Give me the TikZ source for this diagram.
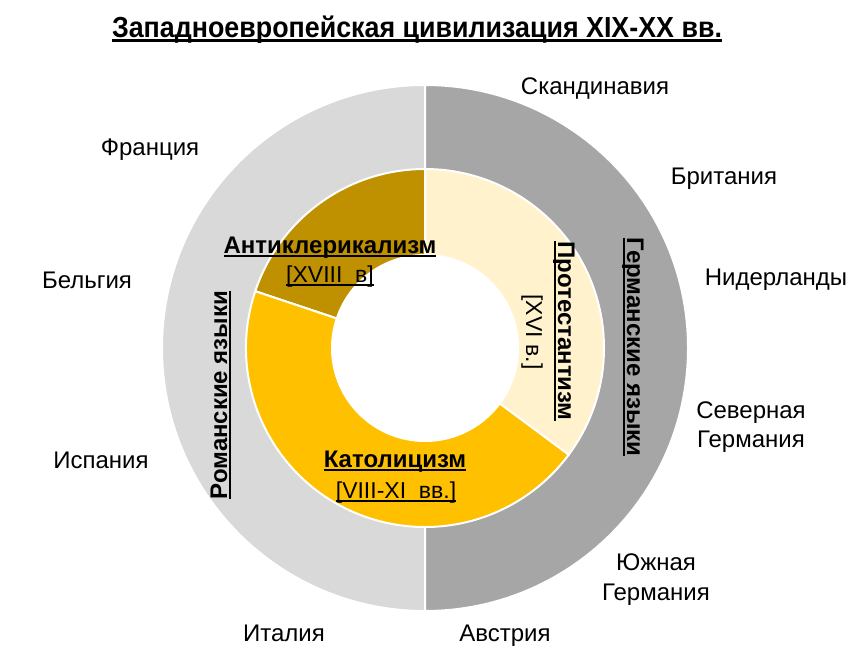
\documentclass[tikz,border=0pt]{standalone}
\usepackage{fontspec}
\setmainfont{Liberation Sans}
\newcommand\myul[1]{\setbox0=\hbox{#1}\rlap{\rule[-0.16em]{\wd0}{0.08em}}\box0}
\definecolor{romgray}{HTML}{D9D9D9}
\definecolor{germgray}{HTML}{A6A6A6}
\definecolor{antigold}{HTML}{BF9000}
\definecolor{cathgold}{HTML}{FFC000}
\definecolor{protcream}{HTML}{FFF2CC}
\tikzset{
  seg/.style={draw=white, line width=2pt},
  country/.style={font=\fontsize{24}{28}\selectfont, anchor=base, inner sep=0pt, align=center},
  relname/.style={font=\fontsize{24}{28}\selectfont\bfseries, anchor=base, inner sep=0pt},
  reldate/.style={font=\fontsize{23}{27}\selectfont, anchor=base, inner sep=0pt},
  langname/.style={font=\fontsize{24}{28}\selectfont\bfseries, anchor=base, inner sep=0pt},
}
\begin{document}
\begin{tikzpicture}[x=1pt,y=1pt]
\useasboundingbox[fill=white] (0,0) rectangle (862,-662);
\coordinate (c) at (425,-348);
% outer ring
\fill[romgray, seg] (c) -- ++(90:263pt) arc[start angle=90, end angle=270, radius=263pt] -- cycle;
\fill[germgray, seg] (c) -- ++(-90:263pt) arc[start angle=-90, end angle=90, radius=263pt] -- cycle;
% inner ring
\fill[protcream, seg] (c) -- ++(-36.6:179pt) arc[start angle=-36.6, end angle=90, radius=179pt] -- cycle;
\fill[antigold, seg] (c) -- ++(90:179pt) arc[start angle=90, end angle=161.5, radius=179pt] -- cycle;
\fill[cathgold, seg] (c) -- ++(161.5:179pt) arc[start angle=161.5, end angle=323.4, radius=179pt] -- cycle;
\fill[white] (c) circle[radius=94pt];
% title
\node[anchor=base, inner sep=0pt, font=\fontsize{29}{33}\selectfont\bfseries] (title) at (417,-37)
  {\myul{\scalebox{0.925}[1]{Западноевропейская цивилизация XIX-XX вв.}}};
% countries
\node[country] (skand) at (595,-94) {Скандинавия};
\node[country] (brit) at (724,-184) {Британия};
\node[country] (nider) at (776,-285) {Нидерланды};
\node[country] (sevg1) at (751,-418) {Северная};
\node[country] (sevg2) at (751,-447) {Германия};
\node[country] (yug1) at (656,-570) {Южная};
\node[country] (yug2) at (656,-600) {Германия};
\node[country] (avst) at (505,-641) {Австрия};
\node[country] (ital) at (284,-641) {Италия};
\node[country] (isp) at (101,-468) {Испания};
\node[country] (belg) at (87,-288) {Бельгия};
\node[country] (fran) at (150,-155) {Франция};
% religions
\node[relname] (anti) at (330,-253) {\myul{Антиклерикализм}};
\node[reldate] (antid) at (330,-282) {\myul{[XVIII\ \ в]}};
\node[relname] (cath) at (395,-467) {\myul{Католицизм}};
\node[reldate] (cathd) at (396,-498) {\myul{[VIII-XI\ \ вв.]}};
\node[relname, rotate=-90] (prot) at (558,-331) {\myul{Протестантизм}};
\node[reldate, rotate=-90] (protd) at (526,-332) {[XVI\ в.]};
% languages
\node[langname, rotate=-90] (germ) at (627,-347) {\myul{Германские языки}};
\node[langname, rotate=90] (rom) at (227,-395) {\myul{Романские языки}};
\end{tikzpicture}
\end{document}
